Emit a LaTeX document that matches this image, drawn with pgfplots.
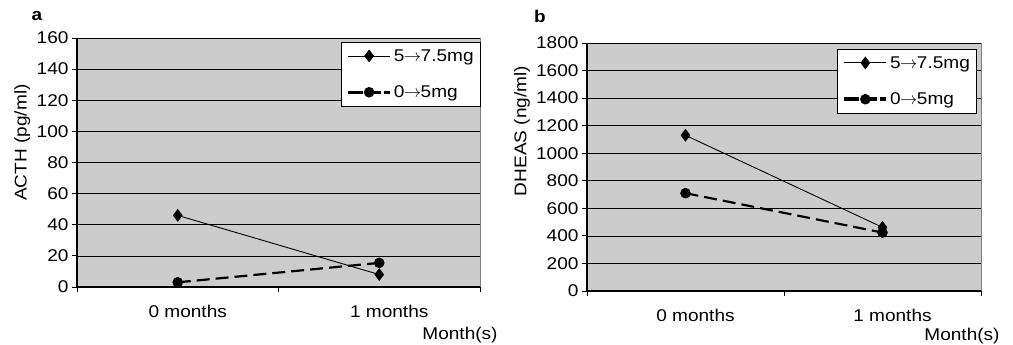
\documentclass[border=0pt]{standalone}
\usepackage{fontspec}
\setmainfont{Liberation Sans}[FakeStretch=1.12]
\usepackage{pgfplots}
\pgfplotsset{compat=1.18}
\definecolor{plotbg}{RGB}{204,204,204}
\newcommand{\arr}{\kern-0.5pt$\rightarrow$\kern-0.5pt}
\pgfplotsset{
  mystyle/.style={
    scale only axis, anchor=south west,
    xmin=0, xmax=2, xtick={0,1,2}, xticklabels={},
    extra x ticks={0.5,1.5}, extra x tick labels={0 months,1 months},
    extra x tick style={major tick length=0pt, tick label style={xshift=10pt, yshift=-15pt}},
    axis x line*=bottom, axis y line*=left,
    axis line style={-, black, line width=1.1pt},
    tick align=outside, major tick length=5pt,
    tick style={black, line width=0.8pt},
    ymajorgrids, major grid style={black, line width=0.6pt},
    axis background/.style={fill=plotbg, draw=gray},
    /pgf/number format/assume math mode=true,
    /pgf/number format/1000 sep={},
    every tick label/.append style={font=\fontsize{17}{20}\selectfont},
    label style={font=\fontsize{17}{20}\selectfont},
    clip=false,
    legend cell align=left,
    legend image code/.code={\draw[mark repeat=2,mark phase=2,##1] plot coordinates {(0pt,0pt) (21pt,0pt) (42pt,0pt)};},
    legend style={draw=black, line width=0.8pt, fill=white, anchor=north west,
      font=\fontsize{17}{20}\selectfont, row sep=19pt, inner sep=5pt,
      /tikz/every even column/.append style={column sep=0pt}},
  },
  s1/.style={black, line width=0.9pt, mark=diamond*, mark size=6pt, mark options={solid, line width=0.5pt}},
  s2/.style={black, line width=2.2pt, dash pattern=on 13pt off 6pt, mark=*, mark size=5pt, mark options={solid, line width=0.5pt},
    legend image post style={line width=3.5pt, dash pattern=on 15pt off 3pt}},
}
\begin{document}
\begin{tikzpicture}[x=1pt,y=1pt]
\useasboundingbox (0,0) rectangle (1013,345);
\begin{axis}[mystyle, at={(77pt,58pt)}, width=403pt, height=249pt,
  ymin=0, ymax=160, ytick={0,20,...,160},
  ylabel={ACTH (pg/ml)},
  ylabel style={at={(axis description cs:-0.136,0.58)}, anchor=center},
  legend style={at={(0.655,0.984)}}]
\addplot[s1] coordinates {(0.5,46) (1.5,8)};
\addlegendentry{5\arr7.5mg}
\addplot[s2] coordinates {(0.5,3) (1.5,15.5)};
\addlegendentry{0\arr5mg}
\end{axis}
\begin{axis}[mystyle, at={(587pt,54pt)}, width=394pt, height=248pt,
  ymin=0, ymax=1800, ytick={0,200,...,1800},
  ylabel={DHEAS (ng/ml)},
  ylabel style={at={(axis description cs:-0.165,0.645)}, anchor=center},
  legend style={at={(0.635,0.976)}}]
\addplot[s1] coordinates {(0.5,1130) (1.5,462)};
\addlegendentry{5\arr7.5mg}
\addplot[s2] coordinates {(0.5,710) (1.5,424)};
\addlegendentry{0\arr5mg}
\end{axis}
\node[font=\fontsize{17}{20}\selectfont] at (460,10) {Month(s)};
\node[font=\fontsize{17}{20}\selectfont] at (962,9) {Month(s)};
\node[font=\fontsize{17}{20}\selectfont\bfseries] at (37,329) {a};
\node[font=\fontsize{17}{20}\selectfont\bfseries] at (540,329) {b};
\end{tikzpicture}
\end{document}
